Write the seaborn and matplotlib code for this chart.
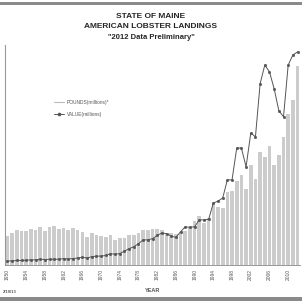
import matplotlib
matplotlib.use("Agg")
import matplotlib.pyplot as plt
import seaborn as sns
import pandas as pd
from matplotlib.lines import Line2D
from matplotlib.patches import Rectangle

years = list(range(1950, 2013))

# landings, millions of pounds
pounds = [18.6, 20.5, 21.9, 21.3, 21.5, 22.6, 22.3, 24.4, 21.8, 23.8,
          24.7, 22.6, 23.5, 22.4, 23.5, 21.9, 20.9, 17.7, 20.4, 19.2,
          18.2, 17.9, 18.9, 16.0, 17.0, 17.2, 19.1, 18.7, 20.0, 22.1,
          22.0, 22.6, 22.7, 21.9, 19.6, 20.1, 19.7, 19.8, 21.7, 23.4,
          28.1, 30.8, 26.8, 29.9, 38.9, 36.9, 36.2, 46.7, 47.0, 53.5,
          57.2, 48.6, 63.6, 54.9, 71.6, 68.7, 75.6, 63.9, 69.9, 81.2,
          96.2, 104.9, 126.5]

# landed value, millions of dollars
value = [6, 6.5, 7, 7, 7.5, 8, 8, 9, 8.5, 9,
         9, 9, 10, 9.5, 10, 11, 12, 11, 13, 14,
         14, 15, 18, 17, 18, 22, 26, 29, 34, 40,
         40, 42, 47, 51, 50, 46, 44, 53, 61, 60,
         61, 72, 72, 73, 99, 102, 107, 136, 136, 187,
         187, 157, 211, 205, 290, 320, 309, 282, 247, 237,
         320, 336, 341]

tick_years = years[::4]

df = pd.DataFrame({"year": years, "pounds": pounds, "value": value})

sns.set_theme(style="white")
plt.rcParams["font.family"] = ["Liberation Sans", "DejaVu Sans"]

fig = plt.figure(figsize=(3.02, 3.02), dpi=100)
ax = fig.add_axes([0.017, 0.123, 0.976, 0.728])

sns.barplot(data=df, x="year", y="pounds", color="#cccccc", saturation=1,
            width=0.78, edgecolor="none", ax=ax)
ax.set_ylim(0, 140)

ax2 = ax.twinx()
sns.pointplot(data=df, x="year", y="value", color="#555555", markers="o",
              markersize=1.6, linewidth=0.7, ax=ax2)
ax2.set_ylim(0, 352)

for a in (ax, ax2):
    a.set_ylabel("")
    a.set_yticks([])
    for s in ("top", "right"):
        a.spines[s].set_visible(False)
ax2.spines["left"].set_visible(False)
ax2.spines["bottom"].set_visible(False)
ax.spines["left"].set_color("#999999")
ax.spines["left"].set_linewidth(0.8)
ax.spines["bottom"].set_color("#888888")
ax.spines["bottom"].set_linewidth(0.6)

ax.set_xticks([years.index(y) for y in tick_years])
ax.set_xticklabels([str(y) for y in tick_years], rotation=90, fontsize=3.5,
                   color="#555555")
ax.set_xlim(-0.5, len(years) - 0.5)
ax.tick_params(axis="x", length=0, pad=3)
ax.set_xlabel("YEAR", fontsize=4, fontweight="bold", color="#555555", labelpad=6)
ax2.set_xlabel("")

handles = [Line2D([], [], color="#bbbbbb", lw=0.8),
           Line2D([], [], color="#555555", lw=0.7, marker="o", markersize=1.6)]
ax.legend(handles, ["POUNDS(millions)*", "VALUE(millions)"], loc="upper left",
          bbox_to_anchor=(0.15, 0.77), frameon=False, fontsize=3.5,
          handlelength=2.2, handletextpad=0.5, labelspacing=1.4,
          labelcolor="#555555")

fig.text(0.5, 0.947, "STATE OF MAINE", ha="center", va="center",
         fontsize=6, fontweight="bold")
fig.text(0.5, 0.911, "AMERICAN LOBSTER LANDINGS", ha="center", va="center",
         fontsize=6, fontweight="bold")
fig.text(0.5, 0.877, "\"2012 Data Preliminary\"", ha="center", va="center",
         fontsize=5.5, fontweight="bold")
fig.text(0.01, 0.033, "2/19/13", ha="left", va="center", fontsize=3,
         color="#555555", fontweight="bold")

fig.add_artist(Rectangle((0, 0.982), 1, 0.012, transform=fig.transFigure,
                         color="#8a8a8a", lw=0))
fig.add_artist(Rectangle((0, 0.003), 1, 0.012, transform=fig.transFigure,
                         color="#8a8a8a", lw=0))

fig.savefig("out.png", dpi=100)
